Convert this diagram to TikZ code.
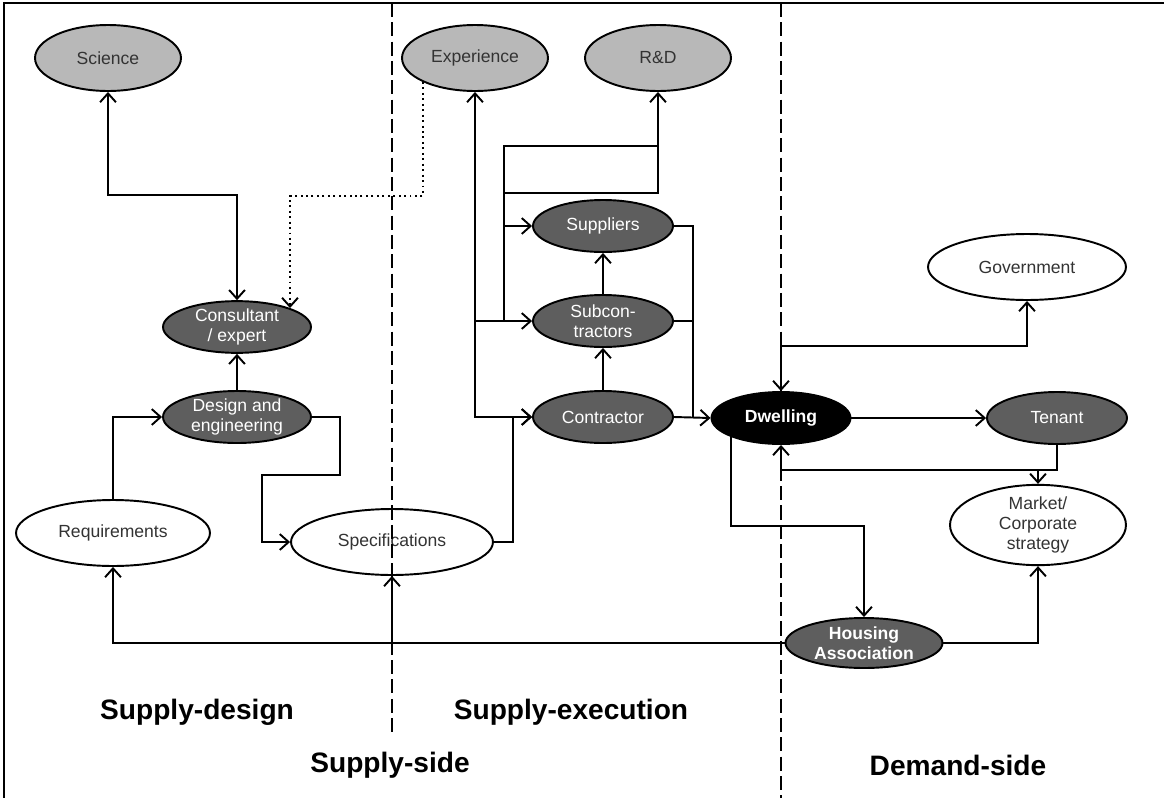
\documentclass[tikz,border=0pt]{standalone}
\usepackage{fontspec}
\setmainfont{Liberation Sans}
\usetikzlibrary{shapes.geometric, arrows.meta}
\definecolor{lightfill}{HTML}{B8B8B8}
\definecolor{darkfill}{HTML}{5E5E5E}
\definecolor{softtext}{HTML}{333333}

\tikzset{
    actor/.style={ellipse, draw, line width=1.1pt, inner sep=0pt, align=center,
        font=\fontsize{10}{11.5}\selectfont},
    source/.style={actor, fill=lightfill, text=softtext, minimum width=2.92cm, minimum height=1.32cm},
    party/.style={actor, fill=darkfill, text=white, minimum width=2.8cm, minimum height=1.04cm},
    outside/.style={actor, fill=white, text=softtext, minimum height=1.32cm},
    flow/.style={line width=1.1pt},
    border/.style={line width=1.1pt, dash pattern=on 8pt off 3pt},
    region/.style={font=\bfseries\fontsize{16}{19}\selectfont}
}

\begin{document}
\begin{tikzpicture}[x=0.02cm, y=-0.02cm, >={Straight Barb[length=5pt,width=9pt]}, line join=miter]
            \useasboundingbox (0,0) rectangle (1164,798);

            % frame
            \draw[line width=1.3pt] (4,798) -- (4,3) -- (1164,3);

            % knowledge sources
            \node[source] (science) at (108,58) {Science};
            \node[source] (experience) at (475,58) {Experience};
            \node[source] (rd) at (658,58) {R\&D};

            % supply-design
            \node[party, minimum width=2.96cm, minimum height=1.0cm] (consultant) at (237,327) {Consultant\\/ expert};
            \node[party, minimum width=2.96cm] (design) at (237,417) {Design and\\engineering};
            \node[outside, minimum width=3.88cm] (requirements) at (113,533) {Requirements};
            \node[outside, minimum width=4.04cm] (spec) at (392,542) {Specifications};

            % supply-execution
            \node[party] (suppliers) at (603,226) {Suppliers};
            \node[party] (subcon) at (603,321) {Subcon-\\tractors};
            \node[party] (contractor) at (603,417) {Contractor};

            % demand-side
            \node[actor, fill=black, text=white, font=\bfseries\fontsize{10}{11.5}\selectfont,
                minimum width=2.78cm, minimum height=1.04cm] (dwelling) at (781,418) {Dwelling};
            \node[party] (tenant) at (1057,418) {Tenant};
            \node[outside, minimum width=3.96cm] (government) at (1027,267) {Government};
            \node[outside, minimum width=3.52cm, minimum height=1.34cm] (market) at (1038,525) {Market/\\Corporate\\strategy};
            \node[party, font=\bfseries\fontsize{10}{11.5}\selectfont,
                minimum width=3.14cm, minimum height=1.0cm] (housing) at (864,643) {Housing\\Association};

            % design side connectors
            \draw[flow, <->] (science.south) -- ++(0,103) -| (consultant.north);
            \draw[flow, dotted, ->] (experience.south west) -- ++(0,114) -| (consultant.north east);
            \draw[flow, ->] (design) -- (consultant);
            \draw[flow, ->] (requirements.north) |- (design.west);
            \draw[flow, ->] (design.east) -| (340,475) -| (262,542) -- (spec.west);
            \draw[flow, ->] (spec.east) -| (513,417) -- (contractor.west);

            % execution side connectors
            \draw[flow, <->] (experience.south) |- (contractor.west);
            \coordinate (expsub) at (474,321);
            \draw[flow, ->] (expsub) -- (subcon.west);
            \draw[flow] (expsub) -- (504,321) -- (504,146) -- (657,146);
            \draw[flow, ->] (504,193) -| (rd.south);
            \draw[flow, ->] (504,226) -- (suppliers.west);
            \draw[flow, ->] (contractor) -- (subcon);
            \draw[flow, ->] (subcon) -- (suppliers);
            \draw[flow] (suppliers.east) -| (693,417);
            \draw[flow] (subcon.east) -- (693,321);
            \draw[flow, ->] (contractor.east) -- (dwelling.west);

            % demand side connectors
            \draw[flow, <->] (government.south) |- (781,346) -- (dwelling.north);
            \draw[flow, ->] (dwelling.east) -- (tenant.west);
            \draw[flow, ->] (tenant.south) |- (781,470) -- (dwelling.south);
            \draw[flow, ->] (1038,470) -- (market.north);
            \draw[flow, ->] (dwelling.south west) -- ++(0,89) -| (housing.north);
            \draw[flow, ->] (housing.east) -| (market.south);
            \draw[flow, ->] (housing.west) -| (requirements.south);
            \draw[flow, ->] (392,643) -- (spec.south);

            % boundaries
            \draw[border] (392,3) -- (392,735);
            \draw[border] (781,3) -- (781,798);

            % region names
            \node[region] (supplydesign) at (197,712) {Supply-design};
            \node[region] (supplyexec) at (571,712) {Supply-execution};
            \node[region] (supplyside) at (390,765) {Supply-side};
            \node[region] (demandside) at (958,765) {Demand-side};

        \end{tikzpicture}
\end{document}
